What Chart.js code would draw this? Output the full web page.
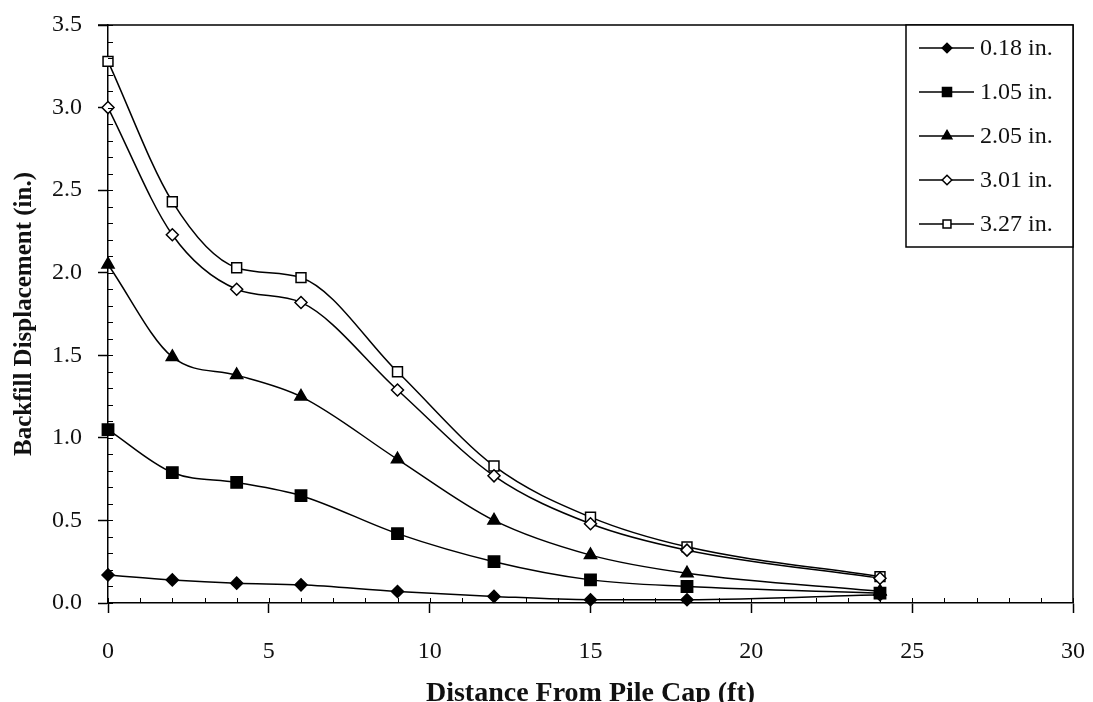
<!DOCTYPE html>
<html>
<head>
<meta charset="utf-8">
<script src="https://cdn.jsdelivr.net/npm/chart.js@4.4.1/dist/chart.umd.min.js"></script>
<style>
  html, body { margin: 0; padding: 0; background: #fff; overflow: hidden; }
  #wrap { width: 1093px; height: 712px; }
</style>
</head>
<body>
<div id="wrap"><canvas id="chart" width="1093" height="712"></canvas></div>
<script>
// distance from pile cap (ft)
const distance = [0, 2, 4, 6, 9, 12, 15, 18, 24];

// backfill displacement (in.) for each cap displacement
const disp018 = [0.17, 0.14, 0.12, 0.11, 0.07, 0.04, 0.02, 0.02, 0.05];
const disp105 = [1.05, 0.79, 0.73, 0.65, 0.42, 0.25, 0.14, 0.10, 0.06];
const disp205 = [2.05, 1.49, 1.38, 1.25, 0.87, 0.50, 0.29, 0.18, 0.07];
const disp301 = [3.00, 2.23, 1.90, 1.82, 1.29, 0.77, 0.48, 0.32, 0.15];
const disp327 = [3.28, 2.43, 2.03, 1.97, 1.40, 0.83, 0.52, 0.34, 0.16];

const seriesLabels = ['0.18 in.', '1.05 in.', '2.05 in.', '3.01 in.', '3.27 in.'];

const xTitle = 'Distance From Pile Cap (ft)';
const yTitle = 'Backfill Displacement (in.)';

const FONT = "'Liberation Serif', 'Times New Roman', serif";

function makeSet(label, values, style, filled, radius) {
    return {
        label: label,
        data: distance.map((d, i) => ({ x: d, y: values[i] })),
        borderColor: '#000',
        borderWidth: 1.5,
        backgroundColor: filled ? '#000' : '#fff',
        pointStyle: style,
        pointRadius: radius,
        pointBorderWidth: 1.5,
        pointBorderColor: '#000',
        pointBackgroundColor: filled ? '#000' : '#fff',
        cubicInterpolationMode: 'monotone',
        fill: false,
        clip: false
    };
}

const datasets = [
    makeSet(seriesLabels[0], disp018, 'rectRot', true, 6),
    makeSet(seriesLabels[1], disp105, 'rect', true, 8),
    makeSet(seriesLabels[2], disp205, 'triangle', true, 7),
    makeSet(seriesLabels[3], disp301, 'rectRot', false, 6),
    makeSet(seriesLabels[4], disp327, 'rect', false, 7)
];

// frame on top/right plus the small inward ticks
const frameTicks = {
    id: 'frameTicks',
    afterDraw(chart) {
        const ctx = chart.ctx;
        const a = chart.chartArea;
        const xs = chart.scales.x, ys = chart.scales.y;
        ctx.save();
        ctx.strokeStyle = '#000';
        ctx.lineWidth = 1.5;
        ctx.beginPath();
        ctx.moveTo(a.left - 10, a.top);
        ctx.lineTo(a.right, a.top);
        ctx.lineTo(a.right, a.bottom);
        ctx.stroke();

        ctx.lineWidth = 1;
        ctx.beginPath();
        for (let v = xs.min; v <= xs.max; v += 1) {
            const px = Math.round(xs.getPixelForValue(v)) + 0.5;
            ctx.moveTo(px, a.bottom);
            ctx.lineTo(px, a.bottom - 5);
        }
        for (let k = 0; k <= 35; k++) {
            const py = Math.round(ys.getPixelForValue(k / 10)) + 0.5;
            ctx.moveTo(a.left, py);
            ctx.lineTo(a.left + 5, py);
        }
        ctx.stroke();
        ctx.restore();
    }
};

// boxed legend with line-through markers, top right
const boxLegend = {
    id: 'boxLegend',
    afterDraw(chart) {
        const ctx = chart.ctx;
        const a = chart.chartArea;
        const w = 167, h = 222;
        const left = a.right - w, top = a.top;
        ctx.save();
        ctx.fillStyle = '#fff';
        ctx.fillRect(left, top, w, h);
        ctx.strokeStyle = '#000';
        ctx.lineWidth = 1.5;
        ctx.strokeRect(left, top, w, h);

        ctx.font = '24px ' + FONT;
        ctx.textBaseline = 'middle';
        ctx.textAlign = 'left';
        chart.data.datasets.forEach((ds, i) => {
            const y = top + 23 + i * 44;
            ctx.strokeStyle = '#000';
            ctx.lineWidth = 1.5;
            ctx.beginPath();
            ctx.moveTo(left + 13, y);
            ctx.lineTo(left + 68, y);
            ctx.stroke();
            ctx.fillStyle = ds.pointBackgroundColor;
            ctx.strokeStyle = '#000';
            Chart.helpers.drawPoint(ctx, {
                pointStyle: ds.pointStyle,
                radius: ds.pointRadius * 0.8,
                borderWidth: 1.5,
                rotation: 0
            }, left + 41, y);
            ctx.fillStyle = '#111';
            ctx.fillText(ds.label, left + 74, y + 1);
        });
        ctx.restore();
    }
};

const config = {
    type: 'line',
    data: { datasets: datasets },
    options: {
        responsive: false,
        animation: false,
        layout: { padding: { top: 25, right: 20, left: 0, bottom: 0 } },
        plugins: {
            legend: { display: false },
            tooltip: { enabled: false }
        },
        scales: {
            x: {
                type: 'linear',
                min: 0,
                max: 30,
                afterFit(scale) {
                    scale.height = 109;
                    scale.paddingLeft = 0;
                    scale.paddingRight = 0;
                },
                ticks: {
                    stepSize: 5,
                    color: '#111',
                    padding: 24,
                    maxRotation: 0,
                    font: { family: FONT, size: 24 }
                },
                grid: {
                    drawOnChartArea: false,
                    drawTicks: true,
                    tickLength: 10,
                    tickWidth: 1.5,
                    tickColor: '#000'
                },
                border: { display: true, color: '#000', width: 1.5 },
                title: {
                    display: true,
                    text: xTitle,
                    color: '#111',
                    padding: { top: 0, bottom: 1 },
                    font: { family: FONT, size: 28, weight: 'bold' }
                }
            },
            y: {
                min: 0,
                max: 3.5,
                afterFit(scale) {
                    scale.width = 108;
                    scale.paddingTop = 0;
                    scale.paddingBottom = 0;
                },
                ticks: {
                    stepSize: 0.5,
                    color: '#111',
                    padding: 16,
                    callback: v => Number(v).toFixed(1),
                    font: { family: FONT, size: 24 }
                },
                grid: {
                    drawOnChartArea: false,
                    drawTicks: true,
                    tickLength: 10,
                    tickWidth: 1.5,
                    tickColor: '#000'
                },
                border: { display: true, color: '#000', width: 1.5 },
                title: {
                    display: true,
                    text: yTitle,
                    color: '#111',
                    padding: { top: 10, bottom: 0 },
                    font: { family: FONT, size: 25, weight: 'bold' }
                }
            }
        }
    },
    plugins: [frameTicks, boxLegend]
};

const myChart = new Chart(document.getElementById('chart'), config);
</script>
</body>
</html>
